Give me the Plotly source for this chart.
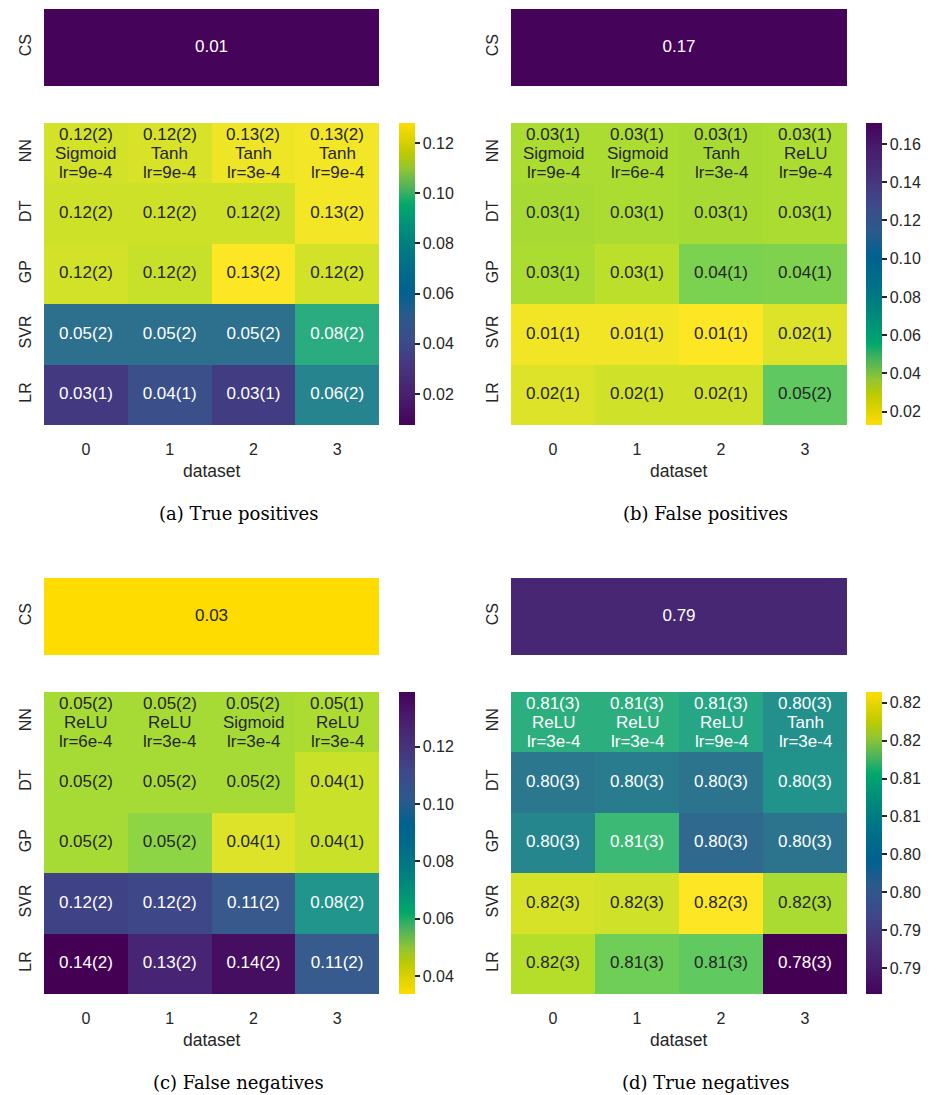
import plotly.graph_objects as go
from plotly.colors import sample_colorscale

# ---------------- data ----------------
datasets = [0, 1, 2, 3]
models = ["NN", "DT", "GP", "SVR", "LR"]

tp_vals = [[0.120, 0.121, 0.125, 0.126],
           [0.119, 0.119, 0.119, 0.126],
           [0.120, 0.118, 0.128, 0.120],
           [0.052, 0.052, 0.052, 0.082],
           [0.028, 0.037, 0.029, 0.062]]
tp_text = [["0.12(2)", "0.12(2)", "0.13(2)", "0.13(2)"],
           ["0.12(2)", "0.12(2)", "0.12(2)", "0.13(2)"],
           ["0.12(2)", "0.12(2)", "0.13(2)", "0.12(2)"],
           ["0.05(2)", "0.05(2)", "0.05(2)", "0.08(2)"],
           ["0.03(1)", "0.04(1)", "0.03(1)", "0.06(2)"]]
tp_nn_act = ["Sigmoid", "Tanh", "Tanh", "Tanh"]
tp_nn_lr = ["lr=9e-4", "lr=9e-4", "lr=3e-4", "lr=9e-4"]
tp_cs, tp_cs_text = 0.0076, "0.01"
tp_ticks = [0.02, 0.04, 0.06, 0.08, 0.10, 0.12]

fp_vals = [[0.033, 0.033, 0.034, 0.033],
           [0.034, 0.033, 0.034, 0.033],
           [0.033, 0.029, 0.045, 0.044],
           [0.016, 0.016, 0.013, 0.021],
           [0.021, 0.024, 0.024, 0.0525]]
fp_text = [["0.03(1)", "0.03(1)", "0.03(1)", "0.03(1)"],
           ["0.03(1)", "0.03(1)", "0.03(1)", "0.03(1)"],
           ["0.03(1)", "0.03(1)", "0.04(1)", "0.04(1)"],
           ["0.01(1)", "0.01(1)", "0.01(1)", "0.02(1)"],
           ["0.02(1)", "0.02(1)", "0.02(1)", "0.05(2)"]]
fp_nn_act = ["Sigmoid", "Sigmoid", "Tanh", "ReLU"]
fp_nn_lr = ["lr=9e-4", "lr=6e-4", "lr=3e-4", "lr=9e-4"]
fp_cs, fp_cs_text = 0.171, "0.17"
fp_ticks = [0.02, 0.04, 0.06, 0.08, 0.10, 0.12, 0.14, 0.16]

fn_vals = [[0.048, 0.048, 0.048, 0.047],
           [0.048, 0.048, 0.048, 0.042],
           [0.048, 0.052, 0.039, 0.042],
           [0.118, 0.116, 0.1095, 0.0843],
           [0.139, 0.1285, 0.135, 0.109]]
fn_text = [["0.05(2)", "0.05(2)", "0.05(2)", "0.05(1)"],
           ["0.05(2)", "0.05(2)", "0.05(2)", "0.04(1)"],
           ["0.05(2)", "0.05(2)", "0.04(1)", "0.04(1)"],
           ["0.12(2)", "0.12(2)", "0.11(2)", "0.08(2)"],
           ["0.14(2)", "0.13(2)", "0.14(2)", "0.11(2)"]]
fn_nn_act = ["ReLU", "ReLU", "Sigmoid", "ReLU"]
fn_nn_lr = ["lr=6e-4", "lr=3e-4", "lr=3e-4", "lr=3e-4"]
fn_cs, fn_cs_text = 0.0338, "0.03"
fn_ticks = [0.04, 0.06, 0.08, 0.10, 0.12]

tn_vals = [[0.8065, 0.8065, 0.8052, 0.8015],
           [0.7975, 0.7983, 0.7967, 0.8019],
           [0.8000, 0.8087, 0.7951, 0.7967],
           [0.8190, 0.8186, 0.8214, 0.8162],
           [0.8170, 0.8126, 0.8115, 0.7816]]
tn_text = [["0.81(3)", "0.81(3)", "0.81(3)", "0.80(3)"],
           ["0.80(3)", "0.80(3)", "0.80(3)", "0.80(3)"],
           ["0.80(3)", "0.81(3)", "0.80(3)", "0.80(3)"],
           ["0.82(3)", "0.82(3)", "0.82(3)", "0.82(3)"],
           ["0.82(3)", "0.81(3)", "0.81(3)", "0.78(3)"]]
tn_nn_act = ["ReLU", "ReLU", "ReLU", "Tanh"]
tn_nn_lr = ["lr=3e-4", "lr=3e-4", "lr=9e-4", "lr=3e-4"]
tn_cs, tn_cs_text = 0.7868, "0.79"
tn_ticks = [0.785, 0.790, 0.795, 0.800, 0.805, 0.810, 0.815, 0.820]
tn_ticktext = ["0.79", "0.79", "0.80", "0.80", "0.81", "0.81", "0.82", "0.82"]

captions = ["(a) True positives", "(b) False positives", "(c) False negatives", "(d) True negatives"]

# ---------------- styling ----------------
SANS = "Liberation Sans, Arial, sans-serif"
SERIF = "DejaVu Serif, serif"
DARK = "#262626"
W, H = 931, 1095
CELL_FS = 17
LINE_GAP = 19

cb_scale = [[0.0, "#45035a"], [0.1, "#48206f"], [0.2, "#46377f"], [0.27, "#3d4a8a"],
            [0.36, "#2b5a8c"], [0.44, "#00618f"], [0.52, "#006d8a"], [0.6, "#007f80"],
            [0.68, "#009776"], [0.73, "#00a86b"], [0.78, "#45b25e"], [0.85, "#93c533"],
            [0.9, "#bccb00"], [1.0, "#ffdc00"]]
cb_scale_r = [[1 - p, c] for p, c in reversed(cb_scale)]


def lum(rgbstr):
    vals = [int(float(v)) for v in rgbstr[rgbstr.index("(") + 1:-1].split(",")[:3]]
    out = []
    for v in vals:
        c = v / 255
        out.append(c / 12.92 if c <= 0.03928 else ((c + 0.055) / 1.055) ** 2.4)
    return 0.2126 * out[0] + 0.7152 * out[1] + 0.0722 * out[2]


def text_color(v, vmin, vmax, rev):
    t = (v - vmin) / (vmax - vmin)
    t = min(max(t, 0), 1)
    if rev:
        t = 1 - t
    col = sample_colorscale("Viridis", [t])[0]
    return DARK if lum(col) > 0.408 else "white"


panels = [
    (tp_vals, tp_text, tp_nn_act, tp_nn_lr, tp_cs, tp_cs_text, tp_ticks, None, False),
    (fp_vals, fp_text, fp_nn_act, fp_nn_lr, fp_cs, fp_cs_text, fp_ticks, None, True),
    (fn_vals, fn_text, fn_nn_act, fn_nn_lr, fn_cs, fn_cs_text, fn_ticks, None, True),
    (tn_vals, tn_text, tn_nn_act, tn_nn_lr, tn_cs, tn_cs_text, tn_ticks, tn_ticktext, False),
]

px = [(44, 379), (511, 847), (44, 379), (511, 847)]
main_y = [(123, 425), (123, 425), (692, 994), (692, 994)]
cs_y = [(9, 86), (9, 86), (578, 655), (578, 655)]
cb_x = [399, 866, 399, 866]
cap_x = [238, 705, 238, 705]
cap_y = [513, 513, 1082, 1082]
ds_y = [471, 471, 1040, 1040]

fig = go.Figure()
layout = dict(width=W, height=H, margin=dict(l=0, r=0, t=0, b=0),
              paper_bgcolor="white", plot_bgcolor="white", showlegend=False,
              font=dict(family=SANS, color=DARK))
annotations = []

for p, (vals, texts, nn_act, nn_lr, cs, cs_text, ticks, ticktext, rev) in enumerate(panels):
    allv = [v for row in vals for v in row] + [cs]
    vmin, vmax = min(allv), max(allv)
    xm, ym = f"x{2*p+1}", f"y{2*p+1}"
    xc, yc = f"x{2*p+2}", f"y{2*p+2}"
    cscale = "Viridis_r" if rev else "Viridis"

    # main heatmap
    fig.add_trace(go.Heatmap(z=vals, x=datasets, y=models, colorscale=cscale,
                             zmin=vmin, zmax=vmax, showscale=False, hoverinfo="skip",
                             xaxis=xm, yaxis=ym))
    tx, ty, tt, tc = [], [], [], []
    for i, m in enumerate(models):
        for j, d in enumerate(datasets):
            col = text_color(vals[i][j], vmin, vmax, rev)
            if m == "NN":
                for k, line in enumerate([texts[i][j], nn_act[j], nn_lr[j]]):
                    annotations.append(dict(text=line, x=d, y=i, xref=xm, yref=ym,
                                            showarrow=False, xanchor="center", yanchor="middle",
                                            yshift=LINE_GAP * (1 - k),
                                            font=dict(family=SANS, size=CELL_FS, color=col)))
            else:
                tx.append(d)
                ty.append(m)
                tt.append(texts[i][j])
                tc.append(col)
    fig.add_trace(go.Scatter(x=tx, y=ty, mode="text", text=tt, textposition="middle center",
                             textfont=dict(family=SANS, size=CELL_FS, color=tc),
                             hoverinfo="skip", xaxis=xm, yaxis=ym))
    # colorbar (dummy marker)
    cb = dict(x=cb_x[p] / W, xanchor="left", xref="paper",
              y=1 - (main_y[p][0] + main_y[p][1]) / 2 / H, yanchor="middle", yref="paper",
              len=(main_y[p][1] - main_y[p][0]) / H, lenmode="fraction",
              thickness=16, thicknessmode="pixels", outlinewidth=0,
              ticks="outside", ticklen=5, tickwidth=1.5, tickcolor=DARK,
              tickvals=ticks, tickfont=dict(family=SANS, size=16, color=DARK),
              ypad=0, xpad=0)
    if ticktext is not None:
        cb["ticktext"] = ticktext
    else:
        cb["ticktext"] = [f"{t:.2f}" for t in ticks]
    fig.add_trace(go.Scatter(x=[datasets[0]], y=[models[0]], mode="markers",
                             marker=dict(color=[vmin], cmin=vmin, cmax=vmax,
                                         colorscale=cb_scale_r if rev else cb_scale,
                                         showscale=True, opacity=0, size=1, colorbar=cb),
                             hoverinfo="skip", xaxis=xm, yaxis=ym))

    # CS bar
    fig.add_trace(go.Heatmap(z=[[cs]], x=[0], y=["CS"],
                             colorscale=cb_scale_r if rev else cb_scale,
                             zmin=vmin, zmax=vmax, showscale=False, hoverinfo="skip",
                             xaxis=xc, yaxis=yc))
    fig.add_trace(go.Scatter(x=[0], y=["CS"], mode="text", text=[cs_text],
                             textfont=dict(family=SANS, size=CELL_FS,
                                           color=[text_color(cs, vmin, vmax, rev)]),
                             hoverinfo="skip", xaxis=xc, yaxis=yc))

    xdom = [px[p][0] / W, px[p][1] / W]
    common = dict(showgrid=False, zeroline=False, showline=False)
    layout[f"xaxis{2*p+1}"] = dict(domain=xdom, anchor=ym, range=[-0.5, 3.5],
                                   tickvals=datasets, ticks="", ticklabelstandoff=13,
                                   tickfont=dict(size=16, family=SANS, color=DARK), **common)
    layout[f"yaxis{2*p+1}"] = dict(domain=[1 - main_y[p][1] / H, 1 - main_y[p][0] / H],
                                   anchor=xm, type="category", categoryarray=models,
                                   range=[4.5, -0.5], ticks="", tickangle=-90,
                                   ticklabelstandoff=9,
                                   tickfont=dict(size=16, family=SANS, color=DARK), **common)
    layout[f"xaxis{2*p+2}"] = dict(domain=xdom, anchor=yc, range=[-0.5, 0.5],
                                   showticklabels=False, ticks="", **common)
    layout[f"yaxis{2*p+2}"] = dict(domain=[1 - cs_y[p][1] / H, 1 - cs_y[p][0] / H],
                                   anchor=xc, type="category", range=[-0.5, 0.5],
                                   ticks="", tickangle=-90, ticklabelstandoff=9,
                                   tickfont=dict(size=16, family=SANS, color=DARK), **common)

    annotations.append(dict(text="dataset", x=(px[p][0] + px[p][1]) / 2 / W, y=1 - ds_y[p] / H,
                            xref="paper", yref="paper", showarrow=False,
                            xanchor="center", yanchor="middle",
                            font=dict(family=SANS, size=17.5, color=DARK)))
    annotations.append(dict(text=captions[p], x=cap_x[p] / W, y=1 - cap_y[p] / H,
                            xref="paper", yref="paper", showarrow=False,
                            xanchor="center", yanchor="middle",
                            font=dict(family=SERIF, size=18, color="black")))

layout["annotations"] = annotations
fig.update_layout(**layout)
fig.write_html("out.html")
